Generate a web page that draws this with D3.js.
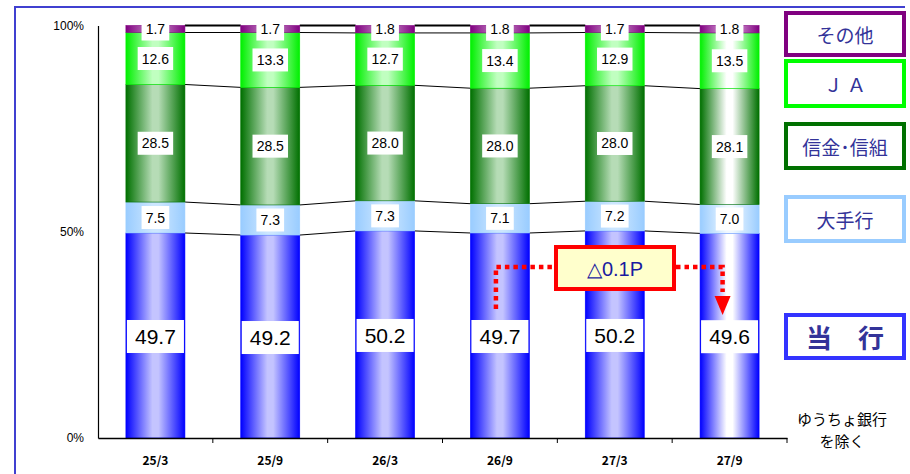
<!DOCTYPE html>
<html><head><meta charset="utf-8">
<script src="https://cdn.jsdelivr.net/npm/d3@7"></script>
<style>
html,body{margin:0;padding:0;background:#fff;}
svg{display:block;}
</style></head>
<body>
<svg id="c" width="910" height="474"></svg>
<script>
const categories = ["25/3","25/9","26/3","26/9","27/3","27/9"];
const seriesNames = ["当行","大手行","信金・信組","ＪＡ","その他"];
const touko   = [49.7, 49.2, 50.2, 49.7, 50.2, 49.6];
const oote    = [7.5, 7.3, 7.3, 7.1, 7.2, 7.0];
const shinkin = [28.5, 28.5, 28.0, 28.0, 28.0, 28.1];
const ja      = [12.6, 13.3, 12.7, 13.4, 12.9, 13.5];
const sonota  = [1.7, 1.7, 1.8, 1.8, 1.7, 1.8];
const yTicks = [0, 50, 100];
const legendLabels = ["その他","Ｊ Ａ","信金･信組","大手行","当　行"];
const noteLabel = "△0.1P";
const footnote = ["ゆうちょ銀行","を除く"];

const series = [touko, oote, shinkin, ja, sonota];
const edgeCol = ["#0000ff","#99ccff","#007000","#00f000","#800080"];
const midCol  = ["#c4c4ff","#cce6ff","#b6dcb6","#c0ffc0","#c890c8"];
const lastMid = ["#ffffff","#f0f8ff","#ffffff","#ffffff","#e0b0e0"];

const svg = d3.select("#c");
const defs = svg.append("defs");
function grad(id, e, m){
  const g = defs.append("linearGradient").attr("id", id).attr("x1","0").attr("x2","1").attr("y1","0").attr("y2","0");
  g.append("stop").attr("offset","0").attr("stop-color", e);
  g.append("stop").attr("offset","0.45").attr("stop-color", m);
  g.append("stop").attr("offset","0.55").attr("stop-color", m);
  g.append("stop").attr("offset","1").attr("stop-color", e);
}
series.forEach((s,i)=>{ grad("g"+i, edgeCol[i], midCol[i]); grad("gl"+i, edgeCol[i], lastMid[i]); });

// frame
svg.append("path").attr("d","M15,474 V7 H905").attr("fill","none").attr("stroke","#4040d0").attr("stroke-width",2);

const x = d3.scaleBand().domain(categories).range([98,787]).paddingInner(0.486).paddingOuter(0.243);
const y = d3.scaleLinear().domain([0,100]).range([438,25.5]);
const bw = x.bandwidth();

// stacked data
const stacked = categories.map((c,ci)=>{
  let acc = 0;
  return series.map((s,si)=>{ const y0 = acc; acc += s[ci]; return {c, ci, si, v:s[ci], y0, y1:acc}; });
});

// connector lines
const g = svg.append("g");
for (let ci=0; ci<categories.length-1; ci++){
  stacked[ci].forEach((d,si)=>{
    const n = stacked[ci+1][si];
    g.append("line").attr("x1", x(categories[ci])+bw).attr("x2", x(categories[ci+1]))
      .attr("y1", y(d.y1)).attr("y2", y(n.y1))
      .attr("stroke","#000").attr("stroke-width", si===4 ? 2 : 1);
  });
}

// bars
stacked.forEach((col,ci)=>{
  col.forEach(d=>{
    g.append("rect").attr("x", x(d.c)).attr("width", bw)
      .attr("y", y(d.y1)).attr("height", y(d.y0)-y(d.y1))
      .attr("fill", `url(#${ci===categories.length-1?"gl":"g"}${d.si})`)
      .attr("stroke", edgeCol[d.si]).attr("stroke-width", 0.6);
  });
});

// axes
const xAxis = svg.append("g").attr("transform","translate(0,438)")
  .call(d3.axisBottom(x).tickSize(0).tickPadding(18));
xAxis.select(".domain").attr("stroke","#000").attr("stroke-width",1.5);
xAxis.selectAll("text").attr("font-family","'Noto Sans CJK JP', sans-serif").attr("font-size",12).attr("font-weight","bold").attr("fill","#000");
categories.forEach((c,i)=>{
  const bx = x.range()[0] + x.step()*(i+1);
  svg.append("line").attr("x1",bx).attr("x2",bx).attr("y1",438).attr("y2",443).attr("stroke","#000");
});
const yAxis = svg.append("g").attr("transform","translate(98,0)")
  .call(d3.axisLeft(y).tickValues(yTicks).tickFormat(d=>d+"%").tickSize(0).tickPadding(14));
yAxis.select(".domain").attr("stroke","#000").attr("stroke-width",1.2);
yAxis.selectAll("text").attr("font-family","'Liberation Sans', Arial, sans-serif").attr("font-size",12).attr("fill","#000");

// value labels
stacked.forEach(col=>{
  col.forEach(d=>{
    const big = d.si===0;
    const cx = x(d.c)+bw/2, cy = (y(d.y0)+y(d.y1))/2 + (big?1:0);
    const t = svg.append("text").attr("x",cx).attr("y",cy).attr("text-anchor","middle").attr("dominant-baseline","central")
      .attr("font-family","'Liberation Sans', Arial, sans-serif").attr("font-size", big?21:14).attr("fill","#000")
      .text(d.v.toFixed(1));
    const bb = t.node().getBBox();
    const w = big ? bw-2 : bb.width+8, h = big ? 33 : 23;
    svg.insert("rect", () => t.node()).attr("x", cx-w/2).attr("y", cy-h/2).attr("width", w).attr("height", h).attr("fill","#fff");
  });
});

// legend
const legY = [[13,55],[61,106],[124,168],[197,241],[315,358]];
const legStroke = ["#800080","#00ff00","#007000","#99ccff","#3333ff"];
legendLabels.forEach((l,i)=>{
  const [y0,y1] = legY[i];
  svg.append("rect").attr("x",786).attr("y",y0).attr("width",118).attr("height",y1-y0)
    .attr("fill","#fff").attr("stroke",legStroke[i]).attr("stroke-width",4);
  svg.append("text").attr("x",845).attr("y",(y0+y1)/2).attr("text-anchor","middle").attr("dominant-baseline","central")
    .attr("font-family","'Noto Sans CJK JP', sans-serif").attr("font-size", i===4?26:19)
    .attr("font-weight", i===4?"bold":"normal").attr("fill","#333399").text(l);
});

// footnote
footnote.forEach((t,i)=>{
  svg.append("text").attr("x",842).attr("y",418+i*22).attr("text-anchor","middle").attr("dominant-baseline","central")
    .attr("font-family","'Noto Sans CJK JP', sans-serif").attr("font-size",15).attr("fill","#000").text(t);
});

// annotation
const ax1 = x("26/9")+bw/2-4, ax2 = x("27/9")+bw/2-7, ly = 267;
svg.append("path").attr("d",`M${ax1},309 V${ly} H554`).attr("fill","none").attr("stroke","#ff0000").attr("stroke-width",4.5).attr("stroke-dasharray","4.5,4");
svg.append("path").attr("d",`M676,${ly} H${ax2} V292`).attr("fill","none").attr("stroke","#ff0000").attr("stroke-width",4.5).attr("stroke-dasharray","4.5,4");
svg.append("path").attr("d",`M${ax2-8},296 H${ax2+8} L${ax2},315 Z`).attr("fill","#ff0000");
svg.append("rect").attr("x",556).attr("y",247).attr("width",118).attr("height",42).attr("fill","#ffffcc").attr("stroke","#ff0000").attr("stroke-width",4);
svg.append("text").attr("x",615).attr("y",269).attr("text-anchor","middle").attr("dominant-baseline","central")
  .attr("font-family","'Liberation Sans', Arial, sans-serif").attr("font-size",20).attr("fill","#1a1aa0").text(noteLabel);
</script>
</body></html>
